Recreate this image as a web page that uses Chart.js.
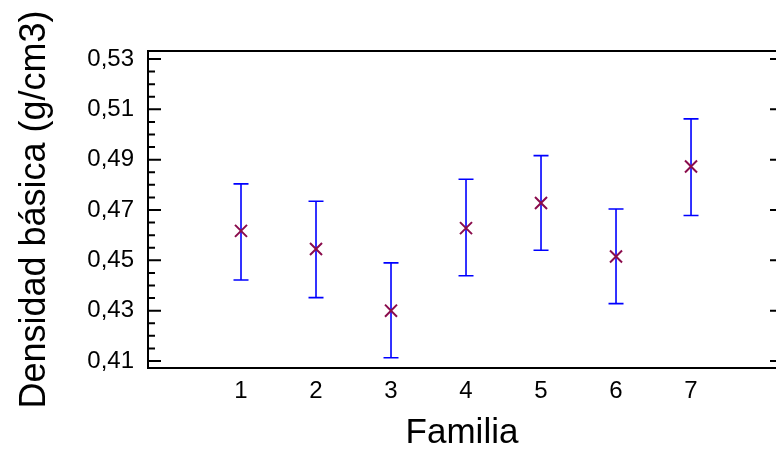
<!DOCTYPE html>
<html>
<head>
<meta charset="utf-8">
<script src="https://cdn.jsdelivr.net/npm/chart.js@4.4.1/dist/chart.umd.min.js"></script>
<style>
  html, body { margin: 0; padding: 0; background: #fff; }
  #wrap { width: 776px; height: 456px; position: relative; }
</style>
</head>
<body>
<div id="wrap"><canvas id="chart"></canvas></div>
<script>
// Densidad básica por familia: media e intervalo
const familias = [1, 2, 3, 4, 5, 6, 7];
const media = [0.4617, 0.4545, 0.4300, 0.4628, 0.4728, 0.4515, 0.4873];
const limInf = [0.4422, 0.4352, 0.4113, 0.4439, 0.4540, 0.4328, 0.4678];
const limSup = [0.4804, 0.4735, 0.4490, 0.4822, 0.4916, 0.4704, 0.5062];

const yTicks = [0.41, 0.43, 0.45, 0.47, 0.49, 0.51, 0.53];
const yMinor = [0.415, 0.42, 0.425, 0.435, 0.44, 0.445, 0.455, 0.46, 0.465,
  0.475, 0.48, 0.485, 0.495, 0.5, 0.505, 0.515, 0.52, 0.525];

const FONT = "'Liberation Sans', Arial, sans-serif";

// barras de error (debajo de los marcadores)
const errorBars = {
  id: "errorBars",
  beforeDatasetsDraw(chart) {
    const { ctx, scales: { x, y } } = chart;
    ctx.save();
    ctx.strokeStyle = "#0000ff";
    ctx.lineWidth = 1.6;
    familias.forEach((f, i) => {
      const px = x.getPixelForValue(f);
      const top = y.getPixelForValue(limSup[i]);
      const bot = y.getPixelForValue(limInf[i]);
      ctx.beginPath();
      ctx.moveTo(px, top);
      ctx.lineTo(px, bot);
      ctx.moveTo(px - 7.5, top);
      ctx.lineTo(px + 7.5, top);
      ctx.moveTo(px - 7.5, bot);
      ctx.lineTo(px + 7.5, bot);
      ctx.stroke();
    });
    ctx.restore();
  },
};

// marco superior y marcas interiores
const frame = {
  id: "frame",
  afterDraw(chart) {
    const { ctx, chartArea: a, scales: { y } } = chart;
    ctx.save();
    ctx.strokeStyle = "#000";
    ctx.lineWidth = 2;
    ctx.beginPath();
    ctx.moveTo(a.left - 1, a.top);
    ctx.lineTo(a.right, a.top);
    yTicks.forEach((v) => {
      const py = y.getPixelForValue(v);
      ctx.moveTo(a.left, py);
      ctx.lineTo(a.left + 13, py);
      ctx.moveTo(a.right, py);
      ctx.lineTo(a.right - 6, py);
    });
    yMinor.forEach((v) => {
      const py = y.getPixelForValue(v);
      ctx.moveTo(a.left, py);
      ctx.lineTo(a.left + 7, py);
    });
    ctx.stroke();
    ctx.restore();
  },
};

new Chart(document.getElementById("chart"), {
  type: "scatter",
  data: {
    datasets: [
      {
        data: familias.map((f, i) => ({ x: f, y: media[i] })),
        pointStyle: "crossRot",
        pointRadius: 8.5,
        pointBorderWidth: 2,
        borderColor: "#8a0c4c",
        backgroundColor: "#8a0c4c",
      },
    ],
  },
  options: {
    responsive: true,
    maintainAspectRatio: false,
    animation: false,
    layout: { autoPadding: false, padding: { top: 51, right: 0, left: 0, bottom: 0 } },
    plugins: { legend: { display: false }, tooltip: { enabled: false } },
    scales: {
      x: {
        type: "linear",
        min: -0.24,
        max: 8.133,
        afterBuildTicks: (s) => { s.ticks = familias.map((v) => ({ value: v })); },
        afterFit: (s) => { s.height = 88; },
        grid: { display: false, drawTicks: false },
        border: { display: true, color: "#000", width: 2 },
        ticks: { color: "#000", padding: 9, font: { family: FONT, size: 24 } },
        title: {
          display: true,
          text: "Familia",
          color: "#000",
          padding: { top: 0, bottom: 2 },
          font: { family: FONT, size: 35 },
        },
      },
      y: {
        min: 0.40722,
        max: 0.53318,
        afterBuildTicks: (s) => { s.ticks = yTicks.map((v) => ({ value: v })); },
        afterFit: (s) => { s.width = 148; },
        grid: { display: false, drawTicks: false },
        border: { display: true, color: "#000", width: 2 },
        ticks: {
          color: "#000",
          padding: 14,
          font: { family: FONT, size: 24 },
          callback: (v) => v.toFixed(2).replace(".", ","),
        },
        title: {
          display: true,
          text: "Densidad básica (g/cm3)",
          color: "#000",
          padding: { top: 13, bottom: 0 },
          font: { family: FONT, size: 36 },
        },
      },
    },
  },
  plugins: [errorBars, frame],
});
</script>
</body>
</html>
